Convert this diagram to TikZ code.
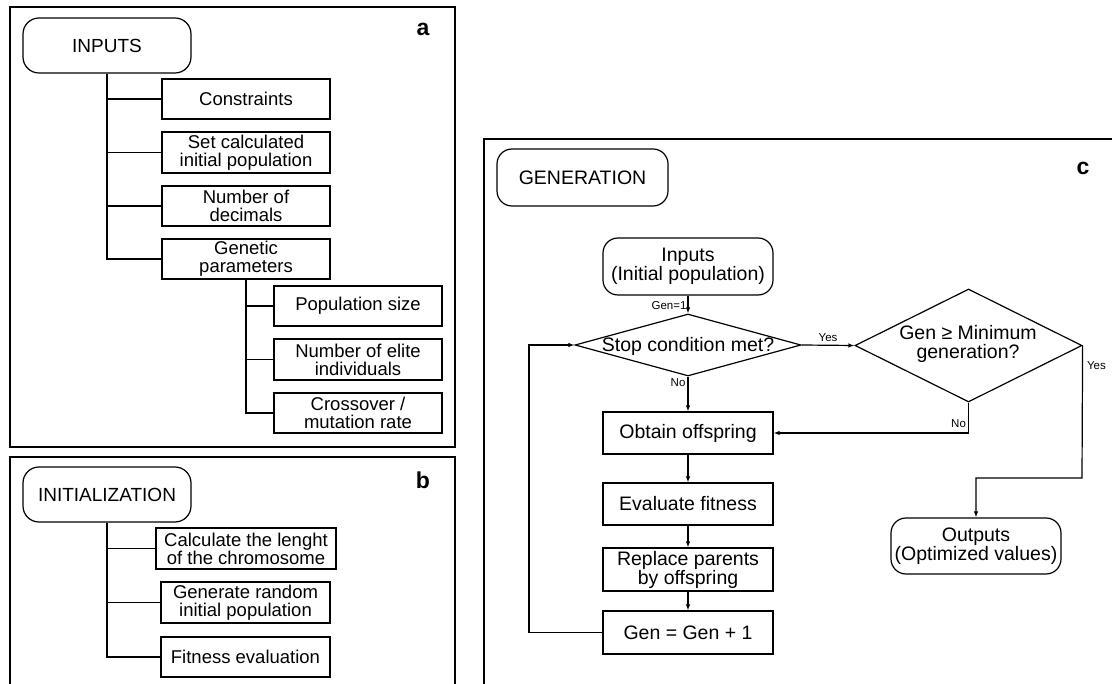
\documentclass[tikz,border=0pt]{standalone}
\usepackage{fontspec}
\setmainfont{Liberation Sans}
\usetikzlibrary{shapes.geometric,arrows.meta}
\begin{document}
\begin{tikzpicture}[x=1pt,y=-1pt,line width=1.2pt,
  every node/.style={font=\fontsize{18.5}{18}\selectfont, align=center, inner sep=0pt},
  box/.style={draw, minimum width=168pt, minimum height=40pt},
  rbox/.style={draw, rounded corners=16pt, minimum width=168pt, minimum height=55pt, font=\fontsize{19}{18}\selectfont},
  cbox/.style={draw, minimum width=170pt, minimum height=42pt, font=\fontsize{19.5}{19}\selectfont},
  crbox/.style={draw, rounded corners=15pt, minimum width=170pt, minimum height=57pt, font=\fontsize{19.5}{19}\selectfont},
  dia/.style={draw, diamond, minimum width=226pt},
  small/.style={font=\fontsize{11.5}{12}\selectfont},
  plabel/.style={font=\fontsize{23}{23}\selectfont\bfseries},
  frame/.style={line width=1.4pt},
  arr/.style={-{Latex[length=6pt,width=4.5pt]}}
]
\useasboundingbox (0,0) rectangle (1112,684);

% ---------- panel a ----------
\draw[frame] (10,7) rectangle (455,447);
\node[plabel] (la) at (423,29) {a};
\node[rbox] (inputs) at (107,45.5) {INPUTS};
\node[box] (cons) at (246,99) {Constraints};
\node[box, minimum height=41pt] (setc) at (246,152.5) {Set calculated\\initial population};
\node[box] (ndec) at (246,206) {Number of\\decimals};
\node[box] (gen) at (246,259) {Genetic\\parameters};
\node[box] (pops) at (358,306) {Population size};
\node[box, minimum height=41pt] (elite) at (358,359.5) {Number of elite\\individuals};
\node[box] (cross) at (358,413) {Crossover /\\mutation rate};
\foreach \t in {cons,setc,ndec,gen} \draw (inputs.south) |- (\t.west);
\foreach \t in {pops,elite,cross} \draw (gen.south) |- (\t.west);

% ---------- panel b ----------
\draw[frame] (10,690) -- (10,457) -- (455,457) -- (455,690);
\node[plabel] (lb) at (423,480) {b};
\node[rbox] (init) at (107,494.5) {INITIALIZATION};
\node[box, minimum width=180pt, minimum height=41pt] (calc) at (246,548.5) {Calculate the lenght\\of the chromosome};
\node[box, minimum width=169pt, minimum height=41pt] (genr) at (245.5,602.5) {Generate random\\initial population};
\node[box, minimum width=169pt] (fit) at (245.5,657) {Fitness evaluation};
\foreach \t in {calc,genr,fit} \draw (init.south) |- (\t.west);

% ---------- panel c ----------
\draw[frame] (484,690) -- (484,139) -- (1115,139);
\node[plabel] (lc) at (1083,168) {c};
\node[crbox, minimum width=171pt] (gener) at (582.5,177.5) {GENERATION};
\node[crbox] (cin) at (688,266.5) {Inputs\\(Initial population)};
\node[dia, minimum height=62pt] (d1) at (688,345) {};
\node[font=\fontsize{19.5}{19}\selectfont] (d1t) at (688,346) {Stop condition met?};
\node[dia, minimum width=227pt, minimum height=113pt] (d2) at (968.5,345.5) {};
\node[font=\fontsize{19.5}{19}\selectfont] (d2t) at (968,344) {Gen ≥ Minimum\\generation?};
\node[cbox] (obt) at (688,433) {Obtain offspring};
\node[cbox] (eval) at (688,504) {Evaluate fitness};
\node[cbox, minimum height=43pt] (repl) at (688,569.5) {Replace parents\\by offspring};
\node[cbox, minimum height=43pt] (gplus) at (688,632.5) {Gen = Gen + 1};
\node[crbox, minimum height=56pt] (outp) at (976,546) {Outputs\\(Optimized values)};

\draw[arr] (cin.south) -- node[small, pos=0.55, left=1pt] {Gen=1} (d1.north);
\draw[arr] (d1.south) -- node[small, pos=0.18, left=2pt] {No} (obt.north);
\draw[arr] (d1.east) -- node[small, above=3pt] {Yes} (d2.west);
\draw[arr] (d2.south) |- node[small, pos=0.35, left=2pt] {No} (obt.east);
\coordinate (yb) at (1082,478);
\draw[arr] (d2.east) -- node[small, pos=0.15, right=4pt] {Yes} (yb) -| (outp.north);
\draw[arr] (obt.south) -- (eval.north);
\draw[arr] (eval.south) -- (repl.north);
\draw[arr] (repl.south) -- (gplus.north);
\coordinate (lp) at (529,632.5);
\draw[arr] (gplus.west) -- (lp) |- (d1.west);
\end{tikzpicture}
\end{document}
